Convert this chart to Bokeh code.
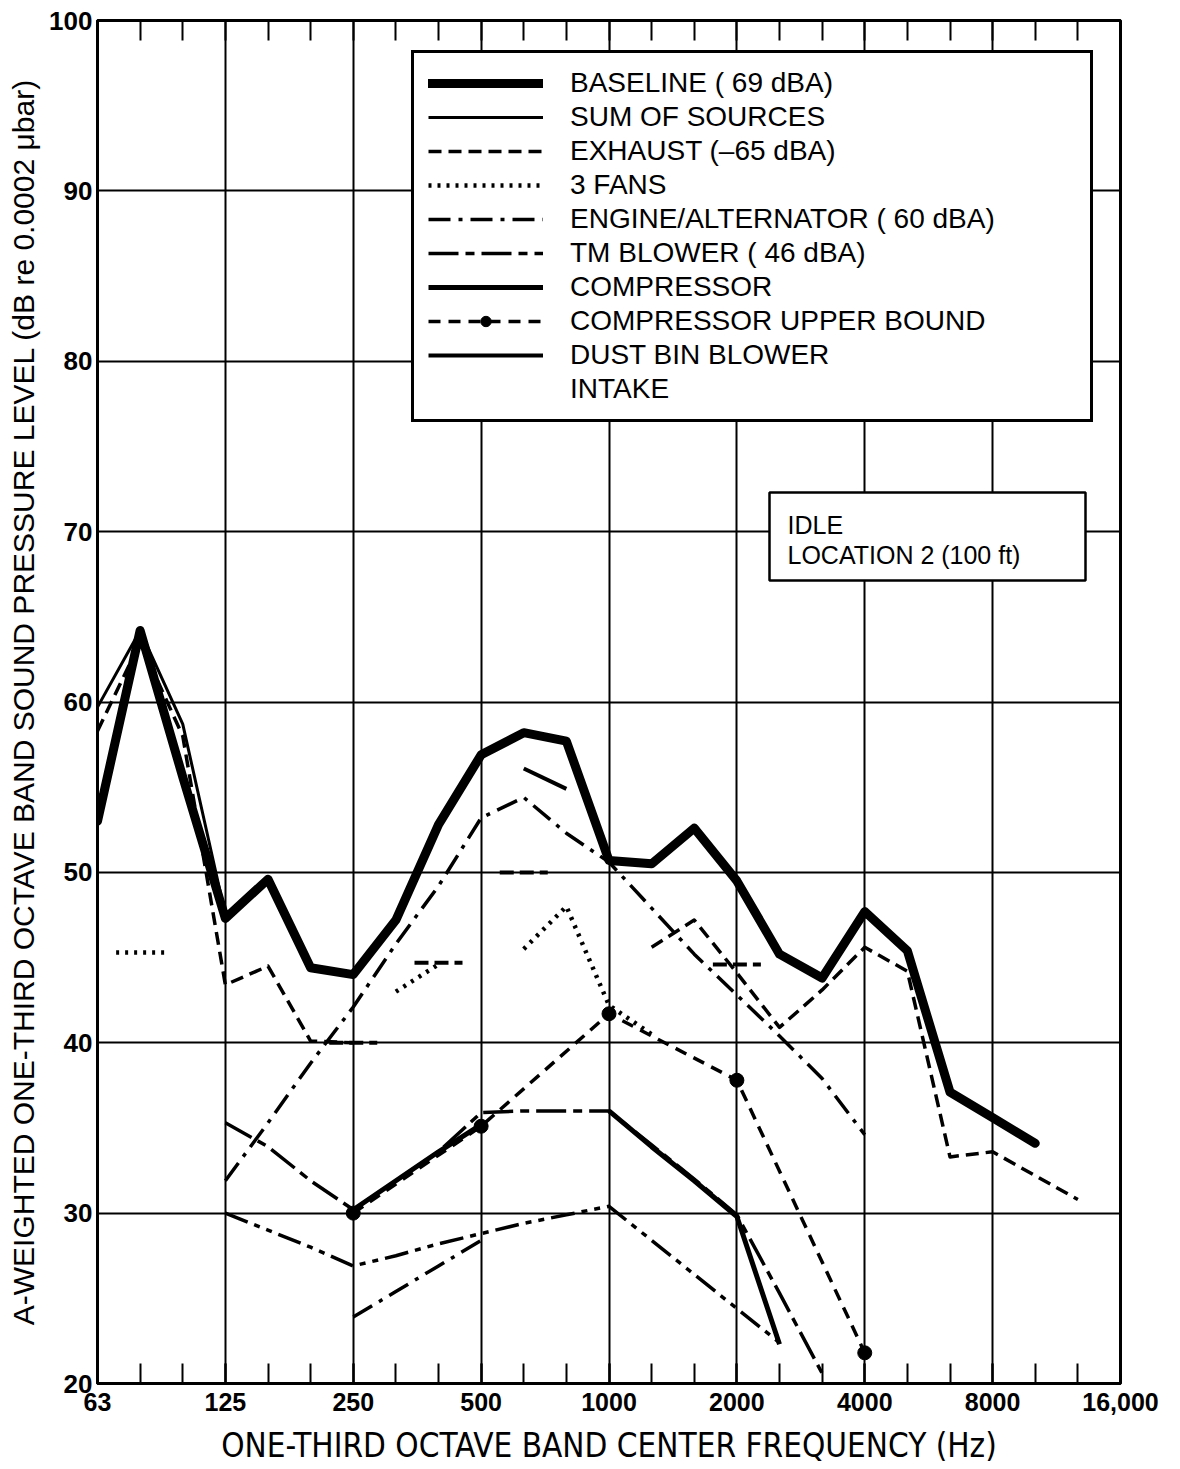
import math
from bokeh.plotting import figure
from bokeh.models import (Range1d, FixedTicker, LinearAxis, Legend, LegendItem,
                          Label, BoxAnnotation)
from bokeh.embed import file_html
from bokeh.resources import INLINE

nan = float("nan")

# one-third octave band centre frequencies (Hz)
BANDS = [63, 80, 100, 125, 160, 200, 250, 315, 400, 500, 630, 800, 1000, 1250,
         1600, 2000, 2500, 3150, 4000, 5000, 6300, 8000, 10000, 12500, 16000]
OCTAVE_TICKS = [63, 125, 250, 500, 1000, 2000, 4000, 8000, 16000]
OCTAVE_LABELS = ["63", "125", "250", "500", "1000", "2000", "4000", "8000", "16,000"]
DB_TICKS = [20, 30, 40, 50, 60, 70, 80, 90, 100]

baseline_f = [63, 80, 100, 125, 160, 200, 250, 315, 400, 500, 630, 800, 1000, 1250,
              1600, 2000, 2500, 3150, 4000, 5000, 6300, 8000, 10000]
baseline_db = [53.0, 64.2, 55.6, 47.3, 49.6, 44.4, 44.0, 47.2, 52.8, 56.9, 58.2, 57.7, 50.7, 50.5,
               52.6, 49.5, 45.2, 43.8, 47.7, 45.4, 37.1, 35.6, 34.1]

sum_f = [63, 80, 100, 125]
sum_db = [59.7, 64.2, 58.7, 47.5]

exhaust_f = [63, 80, 100, 125, 160, 200, 250, 315, 1250, 1600, 2000, 2500, 3150, 4000,
             5000, 6300, 8000, 10000, 12500]
exhaust_db = [58.3, 63.5, 58.0, 43.4, 44.5, 40.1, 40.0, nan, 45.6, 47.2, 44.1, 40.9, 43.1, 45.6,
              44.2, 33.3, 33.6, 32.2, 30.8]

fans_f = [80, 100, 315, 400, 500, 630, 800, 1000, 1250]
fans_db = [45.3, nan, 43.0, 44.6, nan, 45.5, 48.0, 42.2, 40.5]

engine_f = [125, 160, 200, 250, 315, 400, 500, 630, 800, 1000, 1250, 1600, 2000, 2500, 3150, 4000]
engine_db = [31.9, 35.3, 38.8, 42.1, 45.8, 49.2, 53.2, 54.4, 52.3, 50.6, 47.9, 45.2, 42.8, 40.4, 37.9, 34.6]

engine_low_f = [250, 315, 400, 500]
engine_low_db = [23.9, 25.4, 26.9, 28.4]

lower_f = [125, 160, 200, 250, 315, 400, 500, 630, 800, 1000, 1250, 1600, 2000, 2500]
lower_db = [30.0, 29.0, 28.0, 26.9, 27.5, 28.2, 28.8, 29.4, 29.9, 30.4, 28.4, 26.4, 24.4, 22.4]

tm_f = [125, 160, 200, 250, 315, 400, 500, 630, 800, 1000, 1250, 1600, 2000, 2500, 3150]
tm_db = [35.3, 33.9, 31.9, 30.2, 31.9, 33.6, 35.9, 36.0, 36.0, 36.0, 34.0, 32.0, 29.9, 25.3, 20.6]

comp_f = [250, 315, 400, 500, 630, 1000, 1250, 1600, 2000, 2500]
comp_db = [30.2, 31.9, 33.6, 35.2, nan, 36.0, 33.9, 31.9, 29.8, 22.3]

upper_f = [250, 500, 1000, 2000, 4000]
upper_db = [30.0, 35.1, 41.7, 37.8, 21.8]

dust_f = [630, 800]
dust_db = [56.1, 54.9]

intake_f = [250, 315, 400, 500, 630, 800, 2000]
intake_db = [40.0, nan, 44.7, nan, 50.0, nan, 44.6]


def band(f):
    return BANDS.index(f)


def prepare(fs, vals):
    """x positions (band index) of a series, plus its isolated single-band values."""
    xs = [band(f) for f in fs]
    iso_x, iso_y = [], []
    for i, v in enumerate(vals):
        if math.isnan(v):
            continue
        prev_ok = i > 0 and not math.isnan(vals[i - 1])
        next_ok = i < len(vals) - 1 and not math.isnan(vals[i + 1])
        if not prev_ok and not next_ok:
            iso_x.append(xs[i])
            iso_y.append(v)
    return xs, iso_x, iso_y


FONT = "Liberation Sans"
NARROW = "'Liberation Sans Narrow', 'DejaVu Sans Condensed', 'Liberation Sans', sans-serif"

p = figure(width=1172, height=1469, x_range=Range1d(0, 24), y_range=Range1d(20, 100),
           output_backend="svg", toolbar_location=None,
           min_border_left=97, min_border_right=52, min_border_top=20, min_border_bottom=86)
p.background_fill_color = "white"
p.border_fill_color = "white"
p.outline_line_color = "black"
p.outline_line_alpha = 1.0
p.outline_line_width = 3

# axes
xa = p.xaxis[0]
xa.ticker = FixedTicker(ticks=[band(f) for f in OCTAVE_TICKS],
                        minor_ticks=list(range(len(BANDS))))
xa.major_label_overrides = {band(f): lab for f, lab in zip(OCTAVE_TICKS, OCTAVE_LABELS)}
xa.major_tick_in = 20
xa.major_tick_out = 0
xa.minor_tick_in = 20
xa.minor_tick_out = 0
xa.major_tick_line_width = 2
xa.minor_tick_line_width = 2
xa.axis_line_width = 3
xa.major_label_standoff = 9
xa.major_label_text_font = FONT
xa.major_label_text_font_style = "bold"
xa.major_label_text_font_size = "25px"
xa.major_label_text_color = "black"
xa.axis_label = "ONE-THIRD OCTAVE BAND CENTER FREQUENCY (Hz)"
xa.axis_label_text_font = NARROW
xa.axis_label_text_font_size = "33px"
xa.axis_label_text_font_style = "normal"
xa.axis_label_text_color = "black"
xa.axis_label_standoff = 12

top = LinearAxis(ticker=FixedTicker(ticks=[], minor_ticks=list(range(len(BANDS)))),
                 minor_tick_in=20, minor_tick_out=0, minor_tick_line_width=2,
                 axis_line_width=3)
p.add_layout(top, "above")

ya = p.yaxis[0]
ya.ticker = FixedTicker(ticks=DB_TICKS)
ya.major_tick_in = 0
ya.major_tick_out = 0
ya.minor_tick_in = 0
ya.minor_tick_out = 0
ya.axis_line_width = 3
ya.major_label_standoff = 5
ya.major_label_text_font = FONT
ya.major_label_text_font_style = "bold"
ya.major_label_text_font_size = "26px"
ya.major_label_text_color = "black"
ya.axis_label = "A-WEIGHTED ONE-THIRD OCTAVE BAND SOUND PRESSURE LEVEL (dB re 0.0002 \u03bcbar)"
ya.axis_label_text_font = FONT
ya.axis_label_text_font_size = "30px"
ya.axis_label_text_font_style = "normal"
ya.axis_label_text_color = "black"
ya.axis_label_standoff = 6

# grids
p.xgrid.ticker = FixedTicker(ticks=[band(f) for f in OCTAVE_TICKS])
p.ygrid.ticker = FixedTicker(ticks=DB_TICKS)
for g in (p.xgrid, p.ygrid):
    g.grid_line_color = "black"
    g.grid_line_width = 2
    g.grid_line_alpha = 1.0

STYLES = {
    "baseline": dict(line_width=9, line_dash="solid"),
    "sum": dict(line_width=3, line_dash="solid"),
    "exhaust": dict(line_width=3.5, line_dash="13 7"),
    "fans": dict(line_width=4.5, line_dash="3 6"),
    "engine": dict(line_width=3.5, line_dash="22 8 4 8"),
    "tm": dict(line_width=3.5, line_dash="30 7 9 7"),
    "lower": dict(line_width=3.5, line_dash="24 7 6 7 6 7"),
    "comp": dict(line_width=5, line_dash="solid"),
    "upper": dict(line_width=3.5, line_dash="12 8"),
    "dust": dict(line_width=4, line_dash="solid"),
    "intake": dict(line_width=4, line_dash="14 6"),
}


def draw(key, fs, vals):
    xs, ix, iy = prepare(fs, vals)
    st = STYLES[key]
    r = p.line(xs, vals, line_color="black", line_join="round", line_cap="butt", **st)
    if ix:
        p.scatter(ix, iy, marker="dash", size=48, line_color="black",
                  line_width=st["line_width"], line_dash=st["line_dash"])
    return r


r_base = draw("baseline", baseline_f, baseline_db)
r_base.glyph.line_cap = "round"
r_sum = draw("sum", sum_f, sum_db)
r_exh = draw("exhaust", exhaust_f, exhaust_db)
r_fans = draw("fans", fans_f, fans_db)
r_eng = draw("engine", engine_f, engine_db)
draw("engine", engine_low_f, engine_low_db)
draw("lower", lower_f, lower_db)
r_tm = draw("tm", tm_f, tm_db)
r_comp = draw("comp", comp_f, comp_db)
r_up = draw("upper", upper_f, upper_db)
r_up_pts = p.scatter([band(f) for f in upper_f], upper_db, marker="circle", size=14,
                     color="black")
r_dust = draw("dust", dust_f, dust_db)
draw("intake", intake_f, intake_db)
# legend sample for intake (series drawn as isolated band dashes)
r_intake_leg = p.line([], [], line_color="black", **STYLES["intake"])

legend = Legend(items=[
    LegendItem(label="BASELINE ( 69 dBA)", renderers=[r_base]),
    LegendItem(label="SUM OF SOURCES", renderers=[r_sum]),
    LegendItem(label="EXHAUST (\u201365 dBA)", renderers=[r_exh]),
    LegendItem(label="3 FANS", renderers=[r_fans]),
    LegendItem(label="ENGINE/ALTERNATOR ( 60 dBA)", renderers=[r_eng]),
    LegendItem(label="TM BLOWER ( 46 dBA)", renderers=[r_tm]),
    LegendItem(label="COMPRESSOR", renderers=[r_comp]),
    LegendItem(label="COMPRESSOR UPPER BOUND", renderers=[r_up, r_up_pts]),
    LegendItem(label="DUST BIN BLOWER", renderers=[r_dust]),
    LegendItem(label="INTAKE", renderers=[r_intake_leg]),
], location=(314, 961))
legend.border_line_color = "black"
legend.border_line_alpha = 1.0
legend.border_line_width = 3.5
legend.background_fill_color = "white"
legend.background_fill_alpha = 1.0
legend.padding = 14
legend.margin = 0
legend.spacing = 2
legend.glyph_width = 115
legend.glyph_height = 26
legend.label_height = 26
legend.label_standoff = 27
legend.label_width = 506
legend.label_text_font = FONT
legend.label_text_font_size = "28px"
legend.label_text_color = "black"
p.add_layout(legend, "center")

# IDLE / LOCATION box
box = BoxAnnotation(left=672, right=988, top=891, bottom=803,
                    left_units="screen", right_units="screen",
                    top_units="screen", bottom_units="screen",
                    fill_color="white", fill_alpha=1.0,
                    line_color="black", line_alpha=1.0, line_width=2.5)
p.add_layout(box)
for txt, yy in (("IDLE", 859), ("LOCATION 2 (100 ft)", 829)):
    p.add_layout(Label(x=690, y=yy, x_units="screen", y_units="screen", text=txt,
                       text_font=FONT, text_font_size="25px", text_color="black",
                       text_baseline="alphabetic"))

open("out.html", "w").write(file_html(p, INLINE))
